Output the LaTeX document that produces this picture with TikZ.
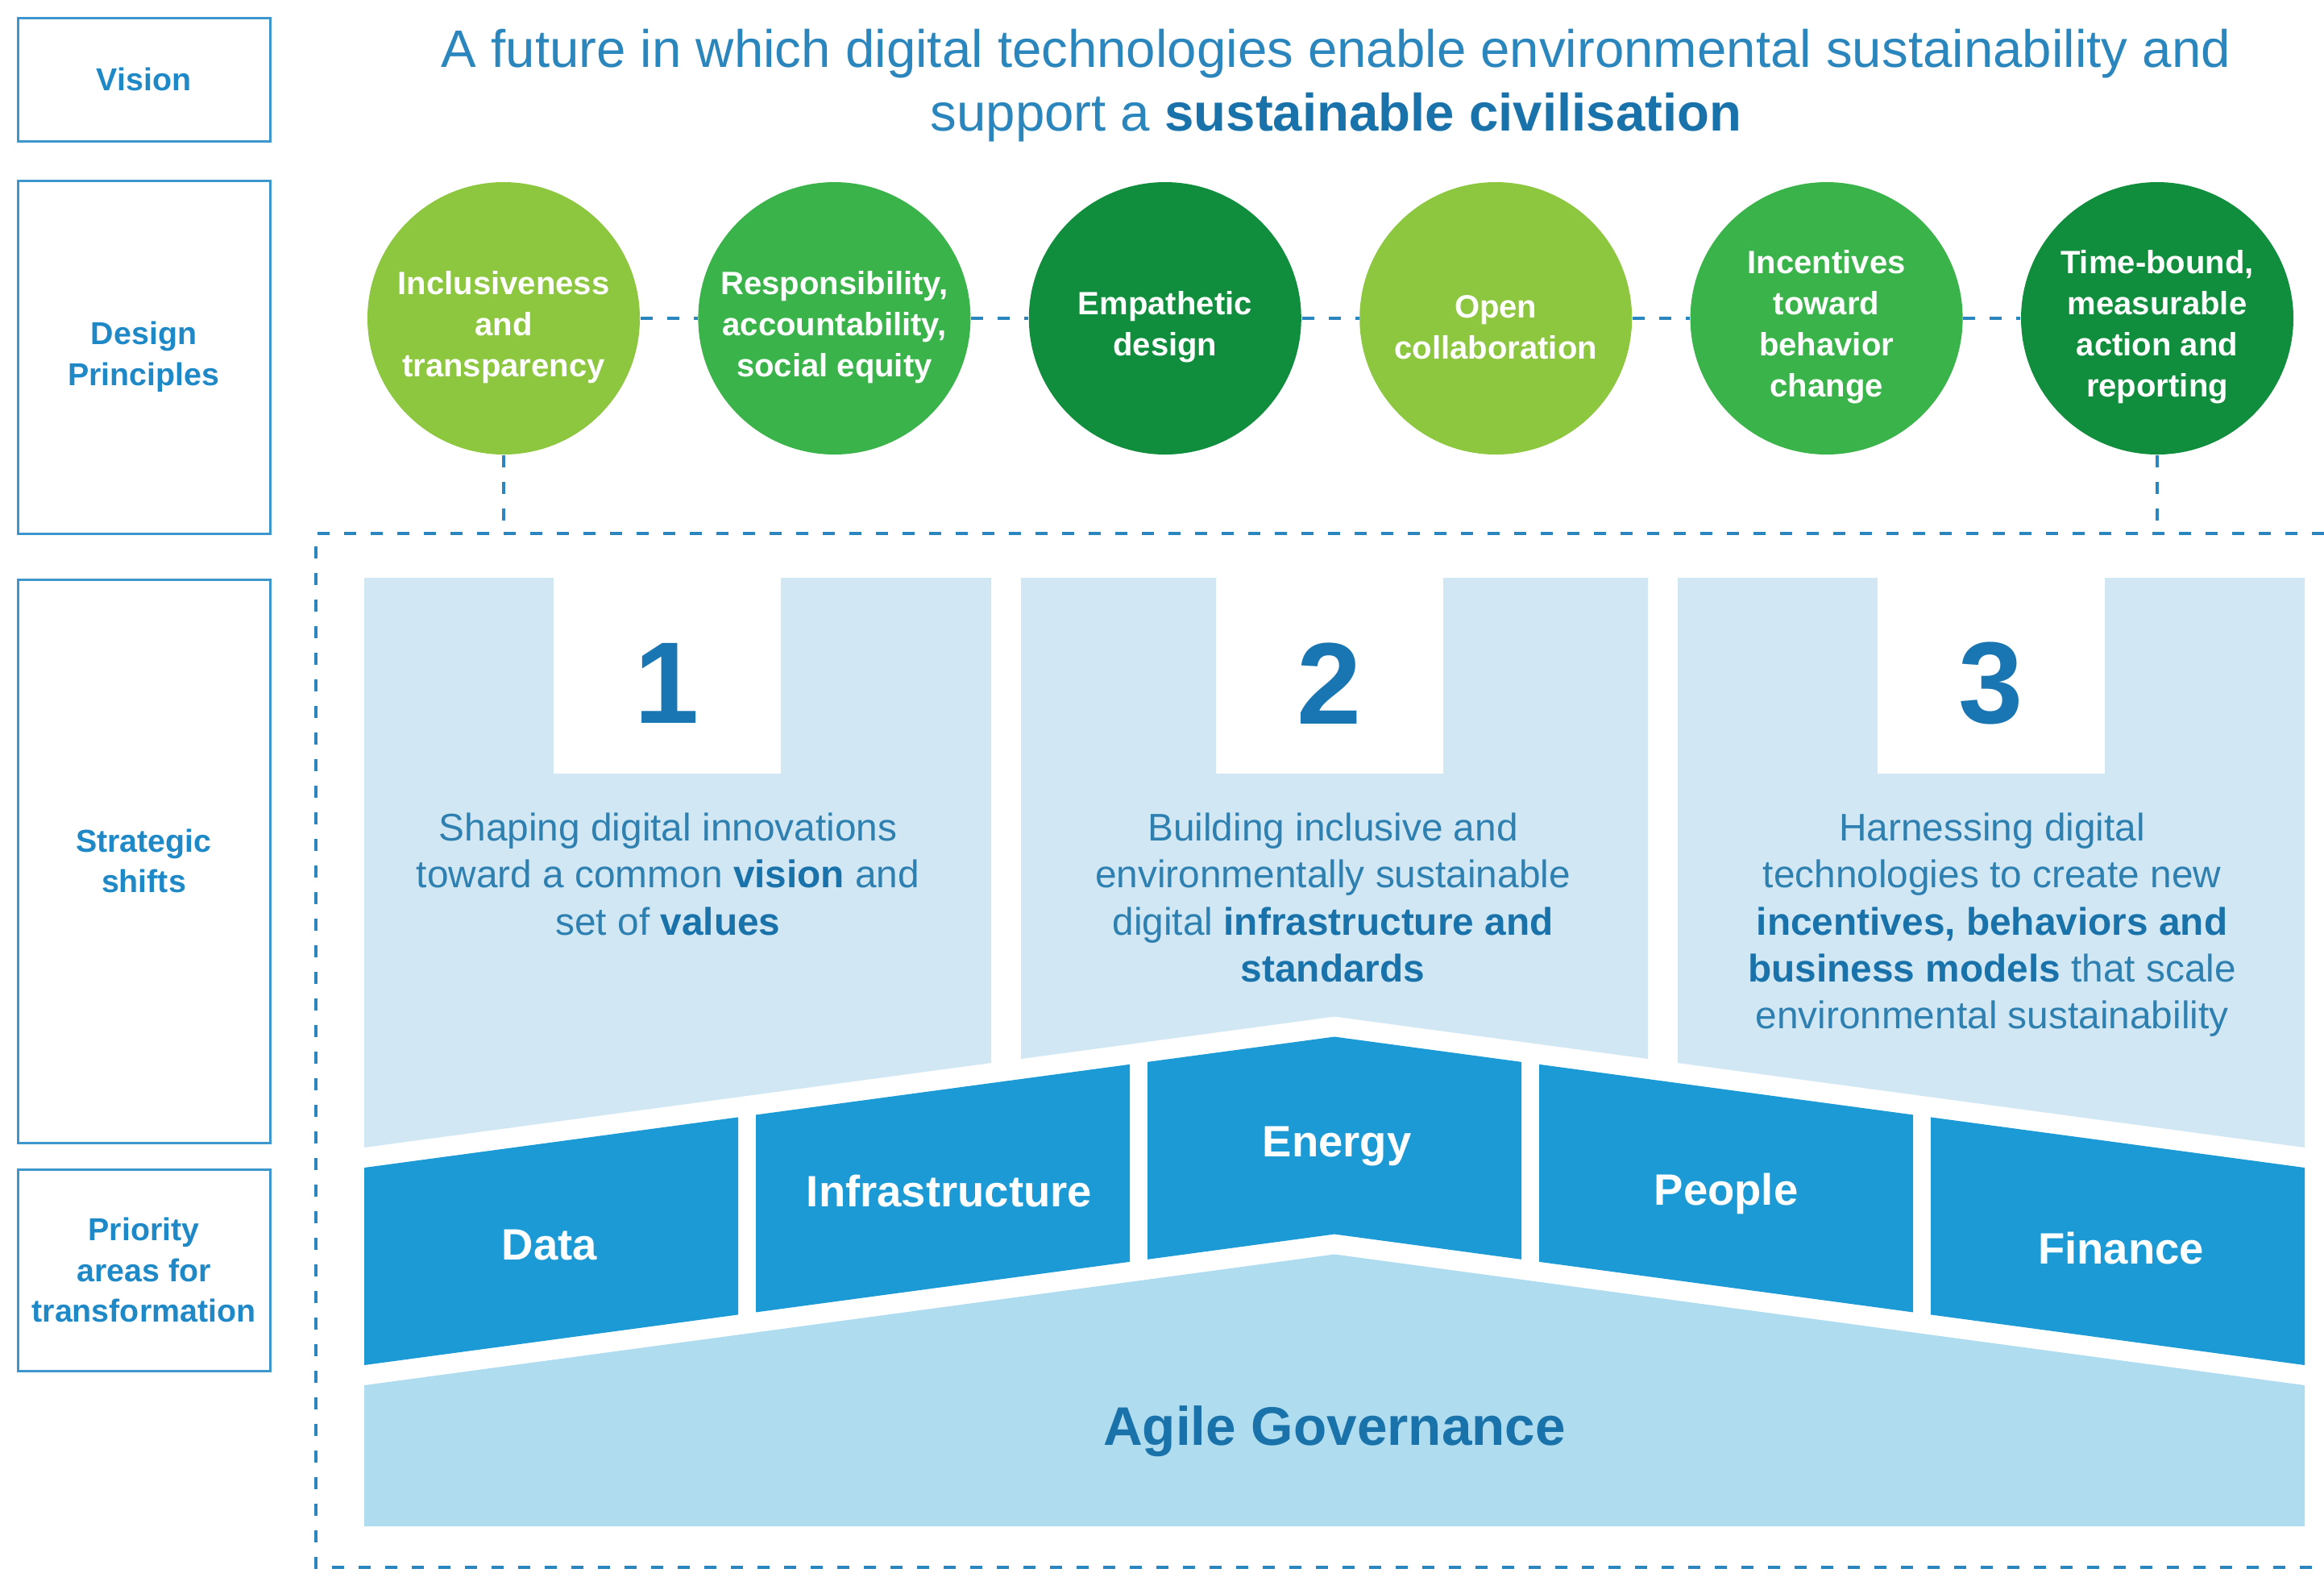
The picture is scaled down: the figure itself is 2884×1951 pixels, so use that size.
\documentclass[tikz,border=0pt]{standalone}
\usepackage{fontspec}
\setmainfont{Liberation Sans}
\usetikzlibrary{positioning}

\definecolor{framecol}{HTML}{3E97CC}
\definecolor{labelblue}{HTML}{1F89C8}
\definecolor{titleblue}{HTML}{2A86BC}
\definecolor{darkblue}{HTML}{1A72AA}
\definecolor{descblue}{HTML}{2E80B0}
\definecolor{numblue}{HTML}{1A76B3}
\definecolor{dashblue}{HTML}{2B86C0}
\definecolor{panelblue}{HTML}{D2E7F4}
\definecolor{blockblue}{HTML}{1B9AD6}
\definecolor{govblue}{HTML}{B0DCEF}
\definecolor{greenpale}{HTML}{8DC63F}
\definecolor{greenmid}{HTML}{3AB44A}
\definecolor{greendark}{HTML}{118E3D}

\newcommand{\keyterm}[1]{{\bfseries\color{darkblue}#1}}
\newcommand{\toppad}{\rule{0pt}{14.5pt}}

\begin{document}
\begin{tikzpicture}[
  x=0.1mm, y=-0.1mm,
  rowlabel/.style={draw=framecol, line width=0.3mm, align=center, minimum width=31.3mm, text=labelblue, font=\fontsize{11.2}{14.4}\selectfont\bfseries},
  principle/.style={circle, minimum size=33.8mm, inner sep=0pt, align=center, text=white, font=\fontsize{11.4}{14.5}\selectfont\bfseries},
  pgreen/.style={principle, fill=greenpale},
  mgreen/.style={principle, fill=greenmid},
  dgreen/.style={principle, fill=greendark},
  dashline/.style={draw=dashblue, line width=0.4mm, dash pattern=on 1.5mm off 1.8mm},
  numbox/.style={fill=white, minimum width=28.2mm, minimum height=24.3mm},
  numtext/.style={text=numblue, font=\fontsize{41}{41}\selectfont\bfseries},
  shifttext/.style={anchor=north, align=center, inner sep=0pt, text=descblue, font=\fontsize{13.6}{16.6}\selectfont},
  arealabel/.style={text=white, font=\fontsize{15.5}{18}\selectfont\bfseries}
]
  \useasboundingbox (0,0) rectangle (2884,1951);

  % row labels
  \node[rowlabel, minimum height=15.3mm] (rvision) at (178.5,98.5) {Vision};
  \node[rowlabel, minimum height=43.8mm] (rdesign) at (178.5,443) {Design\\Principles};
  \node[rowlabel, minimum height=69.9mm] (rshifts) at (178.5,1068.5) {Strategic\\shifts};
  \node[rowlabel, minimum height=25mm] (rareas) at (178.5,1576) {Priority\\areas for\\transformation};

  \node[align=center, text=titleblue, font=\fontsize{18.6}{22.4}\selectfont] (vision) at (1658,106)
    {A future in which digital technologies enable environmental sustainability and\\support a \keyterm{sustainable civilisation}};

  % design principles
  \node[pgreen] (c1) at (625,395) {\toppad Inclusiveness\\and\\transparency};
  \node[mgreen, right=7.1mm of c1] (c2) {\toppad Responsibility,\\accountability,\\social equity};
  \node[dgreen, right=7.1mm of c2] (c3) {\toppad Empathetic\\design};
  \node[pgreen, right=7.1mm of c3] (c4) {\toppad Open\\collaboration};
  \node[mgreen, right=7.1mm of c4] (c5) {\toppad Incentives\\toward\\behavior\\change};
  \node[dgreen, right=7.1mm of c5] (c6) {\toppad Time-bound,\\measurable\\action and\\reporting};

  \draw[dashline] (c1) -- (c2);
  \draw[dashline] (c2) -- (c3);
  \draw[dashline] (c3) -- (c4);
  \draw[dashline] (c4) -- (c5);
  \draw[dashline] (c5) -- (c6);

  \coordinate (ftl) at (392,662);
  \coordinate (fbl) at (392,1945);
  \coordinate (ftr) at (2884,662);
  \coordinate (fbr) at (2884,1945);
  \draw[dashline] (ftr) -- (ftl) -- (fbl) -- (fbr);
  \draw[dashline] (c1.south) -- (c1.south |- ftl);
  \draw[dashline] (c6.south) -- (c6.south |- ftl);

  % strategic shifts
  \fill[panelblue] (452,717) -- (1230,717) -- (1230,1319) -- (452,1424) -- cycle;
  \fill[panelblue] (1267,717) -- (2045,717) -- (2045,1314) -- (1656,1261.5) -- (1267,1314) -- cycle;
  \fill[panelblue] (2082,717) -- (2860,717) -- (2860,1424) -- (2082,1319) -- cycle;

  \node[numbox] (b1) at (828,838.5) {};
  \node[numbox] (b2) at (1650,838.5) {};
  \node[numbox] (b3) at (2471,838.5) {};
  \node[numtext] (n1) at (828,848) {1};
  \node[numtext] (n2) at (1650,848) {2};
  \node[numtext] (n3) at (2471,848) {3};

  \node[shifttext] (s1) at (829,1008) {Shaping digital innovations\\toward a common \keyterm{vision} and\\set of \keyterm{values}};
  \node[shifttext] (s2) at (1654,1008) {Building inclusive and\\environmentally sustainable\\digital \keyterm{infrastructure and}\\\keyterm{standards}};
  \node[shifttext] (s3) at (2472,1008) {Harnessing digital\\technologies to create new\\\keyterm{incentives, behaviors and}\\\keyterm{business models} that scale\\environmental sustainability};

  % priority areas
  \fill[blockblue] (452,1449) -- (916,1386.4) -- (916,1631.4) -- (452,1694) -- cycle;
  \fill[blockblue] (938,1383.4) -- (1402,1320.8) -- (1402,1565.8) -- (938,1628.4) -- cycle;
  \fill[blockblue] (1424,1317.8) -- (1656,1286.5) -- (1888,1317.8) -- (1888,1562.8) -- (1656,1531.5) -- (1424,1562.8) -- cycle;
  \fill[blockblue] (1910,1320.8) -- (2374,1383.4) -- (2374,1628.4) -- (1910,1565.8) -- cycle;
  \fill[blockblue] (2396,1386.4) -- (2860,1449) -- (2860,1694) -- (2396,1631.4) -- cycle;

  \node[arealabel] (data) at (682,1545) {Data};
  \node[arealabel] (infra) at (1178,1478) {Infrastructure};
  \node[arealabel] (energy) at (1659,1422) {Energy};
  \node[arealabel] (people) at (2142,1481) {People};
  \node[arealabel] (finance) at (2632,1549) {Finance};

  \fill[govblue] (452,1719) -- (1656,1556.5) -- (2860,1719) -- (2860,1894) -- (452,1894) -- cycle;
  \node[text=darkblue, font=\fontsize{19.2}{22}\selectfont\bfseries] (agile) at (1656,1776) {Agile Governance};
\end{tikzpicture}
\end{document}
